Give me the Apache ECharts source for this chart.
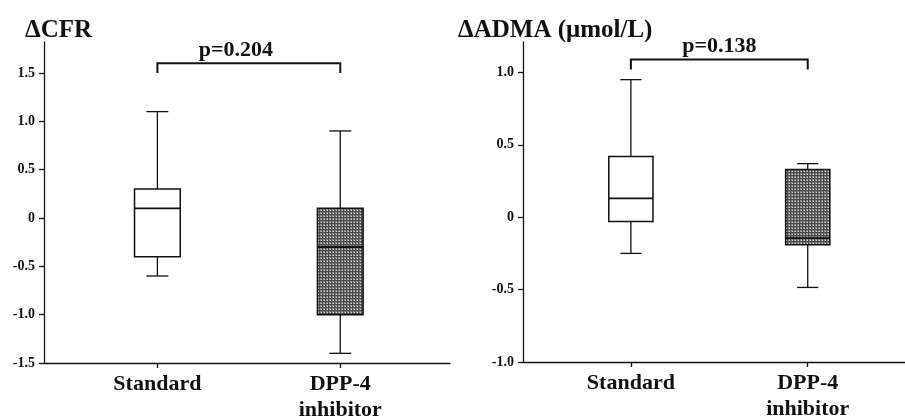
<!DOCTYPE html>
<html>
<head>
<meta charset="utf-8">
<script src="https://cdn.jsdelivr.net/npm/echarts@6/dist/echarts.min.js"></script>
<style>
  html, body { margin: 0; padding: 0; background: #fff; }
  #main { width: 905px; height: 418px; }
</style>
</head>
<body>
<div id="main"></div>
<script>
// groups on the x axis
const categories = ['Standard', 'DPP-4\ninhibitor'];

// [min, Q1, median, Q3, max] per group
const cfrStats = [
  [-0.6, -0.4, 0.1, 0.3, 1.1],
  [-1.4, -1.0, -0.3, 0.1, 0.9]
];
const admaStats = [
  [-0.25, -0.03, 0.13, 0.42, 0.95],
  [-0.485, -0.19, -0.145, 0.33, 0.37]
];

const cfrTicks = [-1.5, -1.0, -0.5, 0, 0.5, 1.0, 1.5];
const admaTicks = [-1.0, -0.5, 0, 0.5, 1.0];

// bracket: from group, to group, bar level, leg end
const cfrBracket = [0, 1, 1.6, 1.5];
const admaBracket = [0, 1, 1.09, 1.02];
const pLabels = ['p=0.204', 'p=0.138'];

const titles = ['\u0394CFR', '\u0394ADMA (\u03bcmol/L)'];

const FONT = '"Liberation Serif", "Times New Roman", serif';

// dotted grey fill of the DPP-4 boxes
const hatch = (() => {
  const c = document.createElement('canvas');
  c.width = 3; c.height = 3;
  const g = c.getContext('2d');
  g.fillStyle = '#888888';
  g.fillRect(0, 0, 3, 3);
  g.fillStyle = '#4a4a4a';
  g.fillRect(1, 0, 1, 3);
  g.fillRect(0, 1, 3, 1);
  g.fillStyle = '#d8d8d8';
  g.fillRect(0, 0, 1, 1);
  return c;
})();
const boxFills = ['#ffffff', { image: hatch, repeat: 'repeat' }];

function tickLabel(v) {
  return Math.abs(v) < 1e-9 ? '0' : v.toFixed(1);
}

function boxItem(params, api) {
  const x = api.value(0);
  const lo = api.value(1), q1 = api.value(2), med = api.value(3), q3 = api.value(4), hi = api.value(5);
  const unit = api.size([1, 0])[0];
  const half = unit * 0.125;
  const cap = unit * 0.06;
  const pLo = api.coord([x, lo]), pQ1 = api.coord([x, q1]), pMed = api.coord([x, med]);
  const pQ3 = api.coord([x, q3]), pHi = api.coord([x, hi]);
  const cx = pLo[0];
  const line = { stroke: '#111', lineWidth: 1.3 };
  return {
    type: 'group',
    children: [
      { type: 'line', shape: { x1: cx, y1: pHi[1], x2: cx, y2: pQ3[1] }, style: line },
      { type: 'line', shape: { x1: cx, y1: pQ1[1], x2: cx, y2: pLo[1] }, style: line },
      { type: 'line', shape: { x1: cx - cap, y1: pHi[1], x2: cx + cap, y2: pHi[1] }, style: line },
      { type: 'line', shape: { x1: cx - cap, y1: pLo[1], x2: cx + cap, y2: pLo[1] }, style: line },
      {
        type: 'rect',
        shape: { x: cx - half, y: pQ3[1], width: half * 2, height: pQ1[1] - pQ3[1] },
        style: { fill: boxFills[params.dataIndex], stroke: '#111', lineWidth: 1.5 }
      },
      { type: 'line', shape: { x1: cx - half, y1: pMed[1], x2: cx + half, y2: pMed[1] }, style: { stroke: '#111', lineWidth: 1.8 } }
    ]
  };
}

function bracketItem(label, dx) {
  return function (params, api) {
    const a = api.coord([api.value(0), api.value(2)]);
    const b = api.coord([api.value(1), api.value(2)]);
    const legY = api.coord([api.value(0), api.value(3)])[1];
    return {
      type: 'group',
      children: [
        {
          type: 'polyline',
          shape: { points: [[a[0], legY], a, b, [b[0], legY]] },
          style: { stroke: '#111', lineWidth: 2, fill: null }
        },
        {
          type: 'text',
          style: {
            text: label, x: (a[0] + b[0]) / 2 + dx, y: a[1] - 2,
            align: 'center', verticalAlign: 'bottom',
            fontSize: 22, fontWeight: 'bold', fontFamily: FONT, fill: '#111'
          }
        }
      ]
    };
  };
}

function xAxis(gridIndex, min, max) {
  return {
    type: 'value', gridIndex, min, max,
    splitLine: { show: false },
    axisLine: { onZero: false, lineStyle: { color: '#111', width: 1.3 } },
    axisTick: { customValues: [0, 1], length: 5, lineStyle: { color: '#111', width: 1.3 } },
    axisLabel: {
      customValues: [0, 1],
      formatter: v => categories[Math.round(v)],
      margin: 8, color: '#111', fontSize: 22, fontWeight: 'bold', fontFamily: FONT, lineHeight: 26
    }
  };
}

function yAxis(gridIndex, min, max, ticks) {
  return {
    type: 'value', gridIndex, min, max,
    splitLine: { show: false },
    axisLine: { show: true, onZero: false, lineStyle: { color: '#111', width: 1.3 } },
    axisTick: { show: true, customValues: ticks, length: 5, lineStyle: { color: '#111', width: 1.3 } },
    axisLabel: {
      customValues: ticks, formatter: tickLabel,
      margin: 9, color: '#111', fontSize: 14, fontWeight: 'bold', fontFamily: FONT
    }
  };
}

const titleText = { fontSize: 25, fontWeight: 'bold', fontFamily: FONT, color: '#111' };

const chart = echarts.init(document.getElementById('main'));
chart.setOption({
  animation: false,
  backgroundColor: '#fff',
  title: [
    { text: titles[0], left: 20, top: 13, textStyle: titleText },
    { text: titles[1], left: 453, top: 13, textStyle: titleText }
  ],
  grid: [
    { left: 44, right: 455, top: 42, bottom: 55, outerBoundsMode: 'none' },
    { left: 523, right: 0, top: 42, bottom: 56, outerBoundsMode: 'none' }
  ],
  xAxis: [xAxis(0, -0.62, 1.6), xAxis(1, -0.61, 1.55)],
  yAxis: [yAxis(0, -1.5, 1.82, cfrTicks), yAxis(1, -1.0, 1.21, admaTicks)],
  series: [
    { type: 'custom', xAxisIndex: 0, yAxisIndex: 0, clip: false, renderItem: boxItem, data: cfrStats.map((s, i) => [i, ...s]) },
    { type: 'custom', xAxisIndex: 1, yAxisIndex: 1, clip: false, renderItem: boxItem, data: admaStats.map((s, i) => [i, ...s]) },
    { type: 'custom', xAxisIndex: 0, yAxisIndex: 0, clip: false, renderItem: bracketItem(pLabels[0], -13), data: [cfrBracket] },
    { type: 'custom', xAxisIndex: 1, yAxisIndex: 1, clip: false, renderItem: bracketItem(pLabels[1], 0), data: [admaBracket] }
  ]
});
</script>
</body>
</html>
